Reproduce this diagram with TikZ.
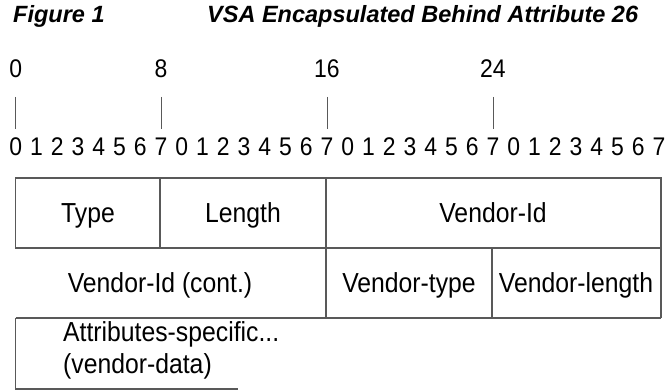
\documentclass[tikz,border=0pt]{standalone}
\usepackage{fontspec}
\setmainfont{Liberation Sans}
\newfontfamily\fieldfont{Liberation Sans}[FakeStretch=0.9]
\begin{document}
\begin{tikzpicture}[x=1pt, y=-1pt,
  field/.style={font=\fieldfont\fontsize{27.5}{32}\selectfont, inner sep=0pt, anchor=base},
  bit/.style={font=\fieldfont\fontsize{25.5}{28}\selectfont, inner sep=0pt, anchor=base},
  caption/.style={font=\fontsize{23.5}{28}\selectfont\bfseries\itshape, inner sep=0pt, anchor=base west},
  rule/.style={draw=black!65, line width=1.1pt}]
  \useasboundingbox (0,0) rectangle (668,390);
  % caption
  \node[caption] (fig) at (13,22.5) {Figure 1};
  \node[caption] (title) at (207,22.5) {VSA Encapsulated Behind Attribute 26};
  % bit row
  \foreach \i in {0,...,31}{
    \pgfmathtruncatemacro\d{mod(\i,8)}
    \node[bit] (b\i) at ({15.7+\i*20.75},156) {\d};
  }
  % byte marks
  \foreach \n/\i in {0/0, 8/7, 16/15, 24/23}{
    \node[bit] (m\n) at (b\i |- 0,78) {\n};
    \coordinate (t\n) at (b\i |- 0,97);
    \draw[rule, line width=0.9pt] (t\n) -- (b\i |- 0,129);
  }
  % packet fields
  \draw[rule] (15.7,178) rectangle (661,248);
  \draw[rule] (160,178) -- (160,248);
  \draw[rule] (326,178) -- (326,318);
  \draw[rule] (492,248) -- (492,318);
  \draw[rule] (661,248) -- (661,318);
  \draw[rule] (15.7,318) -- (661,318);
  \draw[rule] (15.7,318) -- (15.7,389) -- (238,389);
  \node[field] (type) at (88,222) {Type};
  \node[field] (len) at (243,222) {Length};
  \node[field] (vid) at (493,222) {Vendor-Id};
  \node[field] (vidc) at (160,292) {Vendor-Id (cont.)};
  \node[field] (vtype) at (409,292) {Vendor-type};
  \node[field] (vlen) at (576,292) {Vendor-length};
  \node[field, anchor=base west] (data) at (63,341) {Attributes-specific...};
  \node[field, anchor=base west] (vdata) at (63,373) {(vendor-data)};
\end{tikzpicture}
\end{document}
